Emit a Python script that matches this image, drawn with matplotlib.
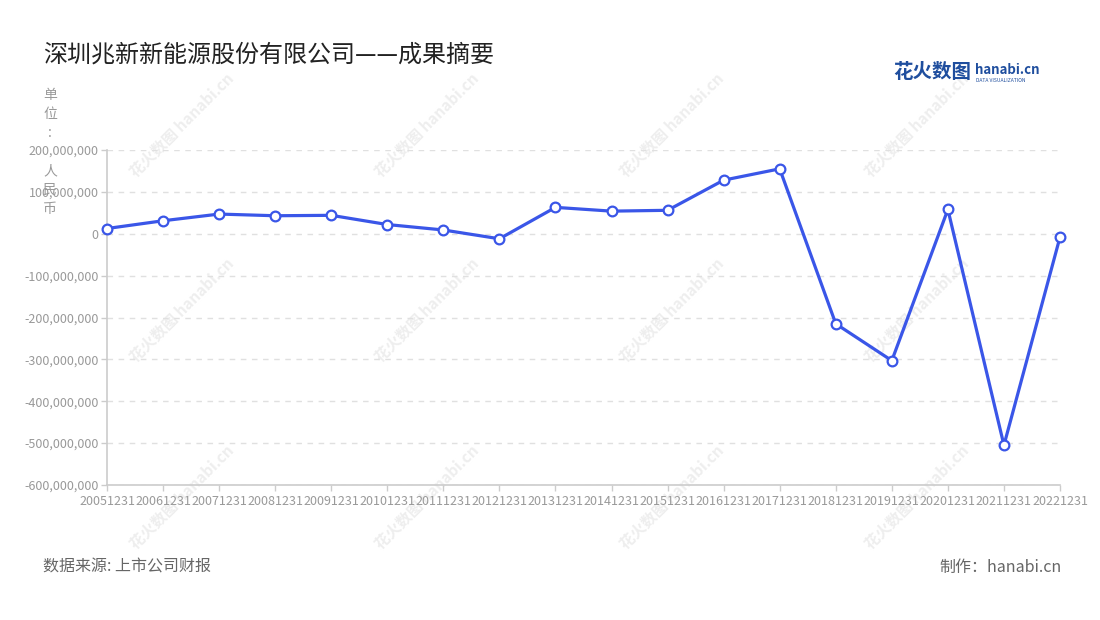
import matplotlib.pyplot as plt
import numpy as np

plt.rcParams['font.family'] = ['Noto Sans CJK SC', 'DejaVu Sans']

# Data (unit: RMB)
periods = ['20051231', '20061231', '20071231', '20081231', '20091231',
           '20101231', '20111231', '20121231', '20131231', '20141231',
           '20151231', '20161231', '20171231', '20181231', '20191231',
           '20201231', '20211231', '20221231']
values = [12.5e6, 31e6, 47e6, 43e6, 44e6,
          22e6, 9e6, -12e6, 63e6, 54e6,
          56e6, 128e6, 155e6, -215e6, -303e6,
          58e6, -505e6, -8e6]
y_ticks = [-600e6, -500e6, -400e6, -300e6, -200e6, -100e6, 0, 100e6, 200e6]

title = '深圳兆新新能源股份有限公司——成果摘要'
unit_label = '单\n位\n:\n\n人\n民\n币'
source = '数据来源: 上市公司财报'
maker = '制作：hanabi.cn'

line_color = '#3A56E8'
grey_text = '#999999'

fig = plt.figure(figsize=(11, 6.2), dpi=100)
ax = fig.add_axes([107 / 1100, 1 - 485 / 620, (1060 - 107) / 1100, (485 - 150) / 620])
ax.patch.set_alpha(0)

x = np.arange(len(periods))
ax.plot(x, values, color=line_color, lw=2.3, marker='o', markersize=7,
        markerfacecolor='white', markeredgecolor=line_color, markeredgewidth=1.6,
        zorder=5, clip_on=False)

ax.set_xlim(0, len(periods) - 1)
ax.set_ylim(-600e6, 200e6)
ax.set_yticks(y_ticks)
ax.set_yticklabels(['0' if v == 0 else f'{int(v):,}' for v in y_ticks])
ax.set_xticks(x)
ax.set_xticklabels(periods)
ax.tick_params(axis='both', colors='#cccccc', labelcolor=grey_text, labelsize=9,
               length=4, width=1)
ax.tick_params(axis='y', length=4, pad=2)
ax.tick_params(axis='x', pad=3)
ax.grid(axis='y', linestyle=(0, (4, 4)), color='#e0e0e0', lw=1)
ax.set_axisbelow(True)
for side in ['top', 'right']:
    ax.spines[side].set_visible(False)
for side in ['left', 'bottom']:
    ax.spines[side].set_color('#cccccc')
    ax.spines[side].set_linewidth(1.2)

# watermarks, behind everything
for wx in [182, 427, 672, 917]:
    for wy in [125, 310, 497]:
        fig.text(wx / 1100, 1 - wy / 620, '花火数图 hanabi.cn', rotation=45,
                 ha='center', va='center', fontsize=11, fontweight='bold',
                 color='#eeeeee', zorder=-1)

fig.text(43 / 1100, 1 - 55 / 620, title, fontsize=17.3, color='#222222',
         ha='left', va='center')
fig.text(50 / 1100, 1 - 152 / 620, unit_label, fontsize=10, color=grey_text,
         ha='center', va='center', linespacing=1.45)

# logo
fig.text(893 / 1100, 1 - 73 / 620, '花火数图', fontsize=14, fontweight='bold',
         color='#1f4e9e', ha='left', va='center')
fig.text(975 / 1100, 1 - 70 / 620, 'hanabi.cn', fontsize=9.5, fontweight='bold',
         color='#1f4e9e', ha='left', va='center')
fig.text(976 / 1100, 1 - 80 / 620, 'DATA VISUALIZATION', fontsize=3.6,
         color='#1f4e9e', ha='left', va='center')

fig.text(43 / 1100, 1 - 567 / 620, source, fontsize=11.5, color='#666666',
         ha='left', va='center')
fig.text(1062 / 1100, 1 - 567 / 620, maker, fontsize=11.5, color='#666666',
         ha='right', va='center')

fig.savefig('out.png', dpi=100, facecolor='white')
